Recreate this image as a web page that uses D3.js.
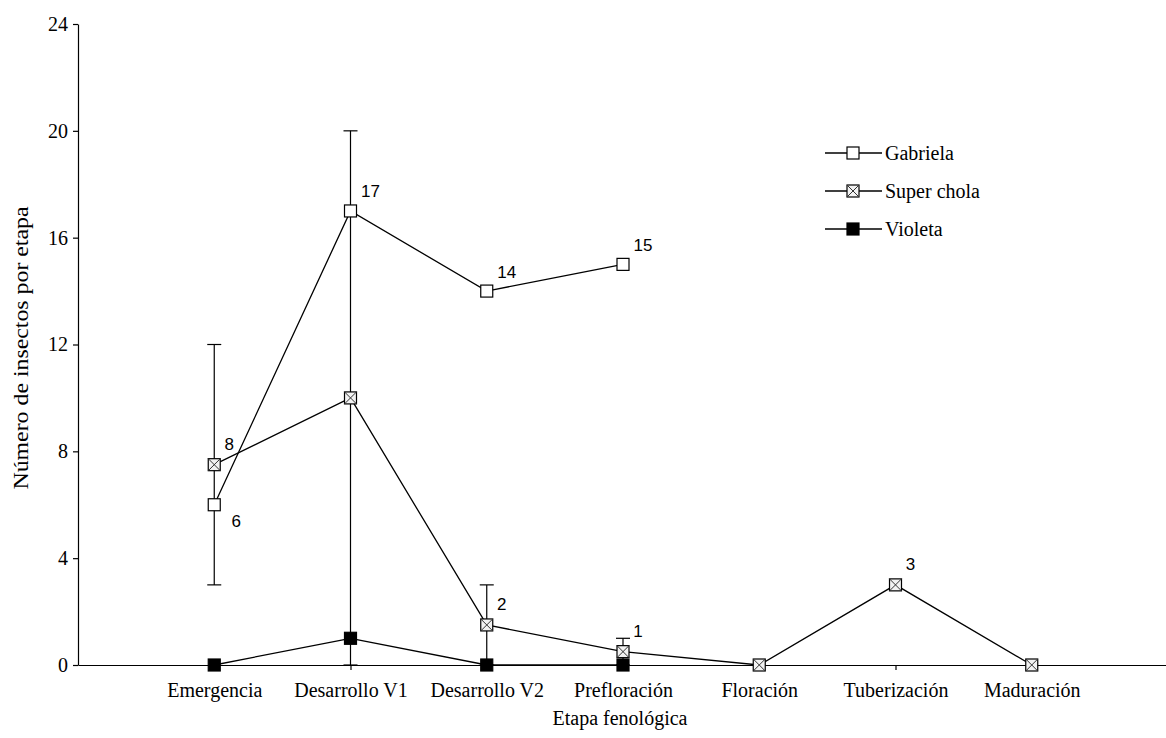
<!DOCTYPE html>
<html>
<head>
<meta charset="utf-8">
<script src="https://cdn.jsdelivr.net/npm/d3@7"></script>
<style>
  body { margin: 0; background: #fff; }
  svg { display: block; }
</style>
</head>
<body>
<svg id="chart" width="1166" height="738"></svg>
<script>
// Phenological stages on the x axis
const stages = ["Emergencia", "Desarrollo V1", "Desarrollo V2", "Prefloración", "Floración", "Tuberización", "Maduración"];
const yTicks = [0, 4, 8, 12, 16, 20, 24];

// Insects per stage for each potato variety (null = not recorded)
const gabriela = [6, 17, 14, 15, null, null, null];
const superChola = [7.5, 10, 1.5, 0.5, 0, 3, 0];
const superCholaErr = [4.5, 10, 1.5, 0.5, null, null, null];
const violeta = [0, 1, 0, 0, null, null, null];

// Value annotations printed next to the points
const gabrielaLabels = ["6", "17", "14", "15", "", "", ""];
const superCholaLabels = ["8", "", "2", "1", "", "3", ""];

const seriesNames = ["Gabriela", "Super chola", "Violeta"];

const svg = d3.select("#chart");
const serif = "'Liberation Serif', 'Times New Roman', serif";
const sans = "'Liberation Sans', Arial, sans-serif";

const x = d3.scalePoint().domain(stages).range([78, 1168]).padding(1);
const y = d3.scaleLinear().domain([0, 24]).range([665, 24]);

// Axes
const yAxis = svg.append("g")
  .attr("transform", "translate(78,0)")
  .call(d3.axisLeft(y).tickValues(yTicks).tickSize(5).tickSizeOuter(0).tickPadding(5).tickFormat(d3.format("d")));
const xAxis = svg.append("g")
  .attr("transform", "translate(0,665)")
  .call(d3.axisBottom(x).tickSize(5).tickSizeOuter(0).tickPadding(13));

[yAxis, xAxis].forEach(g => {
  g.selectAll("path, line").attr("stroke", "#000").attr("stroke-width", 1.2);
  g.selectAll("text").attr("font-family", serif).attr("font-size", 20).attr("fill", "#000");
});

// Axis titles
svg.append("text")
  .attr("x", 620).attr("y", 725)
  .attr("text-anchor", "middle")
  .attr("font-family", serif).attr("font-size", 20)
  .text("Etapa fenológica");

svg.append("text")
  .attr("transform", "translate(28,348) rotate(-90)")
  .attr("text-anchor", "middle")
  .attr("font-family", serif).attr("font-size", 20)
  .attr("textLength", 283).attr("lengthAdjust", "spacingAndGlyphs")
  .text("Número de insectos por etapa");

// Error bars (Super chola)
const cap = 7;
const errG = svg.append("g").attr("stroke", "#000").attr("stroke-width", 1.2);
superChola.forEach((v, i) => {
  const e = superCholaErr[i];
  if (e == null) return;
  const cx = x(stages[i]);
  const top = y(v + e), bot = y(Math.max(0, v - e));
  errG.append("line").attr("x1", cx).attr("x2", cx).attr("y1", top).attr("y2", bot);
  errG.append("line").attr("x1", cx - cap).attr("x2", cx + cap).attr("y1", top).attr("y2", top);
  errG.append("line").attr("x1", cx - cap).attr("x2", cx + cap).attr("y1", bot).attr("y2", bot);
});

// Series lines
const line = d3.line()
  .defined(d => d.v != null)
  .x(d => x(d.stage))
  .y(d => y(d.v));

const toPoints = arr => arr.map((v, i) => ({ stage: stages[i], v }));
const series = [gabriela, superChola, violeta];

series.forEach(arr => {
  svg.append("path")
    .datum(toPoints(arr))
    .attr("d", line)
    .attr("fill", "none")
    .attr("stroke", "#000")
    .attr("stroke-width", 1.3);
});

// Markers
const size = 12;
function marker(g, kind, cx, cy) {
  const h = size / 2;
  if (kind === 0) {
    g.append("rect").attr("x", cx - h).attr("y", cy - h).attr("width", size).attr("height", size)
      .attr("fill", "#fff").attr("stroke", "#000").attr("stroke-width", 1.2);
  } else if (kind === 1) {
    g.append("rect").attr("x", cx - h).attr("y", cy - h).attr("width", size).attr("height", size)
      .attr("fill", "#f2f2f2").attr("stroke", "#000").attr("stroke-width", 1.2);
    g.append("path")
      .attr("d", `M${cx - h},${cy - h}L${cx + h},${cy + h}M${cx + h},${cy - h}L${cx - h},${cy + h}`)
      .attr("stroke", "#333").attr("stroke-width", 1);
  } else {
    g.append("rect").attr("x", cx - h).attr("y", cy - h).attr("width", size).attr("height", size)
      .attr("fill", "#000").attr("stroke", "#000").attr("stroke-width", 1.2);
  }
}

const markG = svg.append("g");
series.forEach((arr, k) => {
  arr.forEach((v, i) => {
    if (v == null) return;
    marker(markG, k, x(stages[i]), y(v));
  });
});

// Value annotations
const labG = svg.append("g").attr("font-family", sans).attr("font-size", 17)
  .attr("text-anchor", "middle").attr("dominant-baseline", "central");
gabrielaLabels.forEach((t, i) => {
  if (!t) return;
  const below = i === 0;
  labG.append("text")
    .attr("x", x(stages[i]) + (below ? 22 : 20))
    .attr("y", y(gabriela[i]) + (below ? 17 : -19))
    .text(t);
});
superCholaLabels.forEach((t, i) => {
  if (!t) return;
  labG.append("text")
    .attr("x", x(stages[i]) + 15)
    .attr("y", y(superChola[i]) - 20)
    .text(t);
});

// Legend
const legend = svg.append("g");
seriesNames.forEach((name, k) => {
  const ly = 153 + k * 38;
  legend.append("line").attr("x1", 825).attr("x2", 882).attr("y1", ly).attr("y2", ly)
    .attr("stroke", "#000").attr("stroke-width", 1.3);
  marker(legend, k, 853, ly);
  legend.append("text").attr("x", 885).attr("y", ly)
    .attr("dominant-baseline", "central")
    .attr("font-family", serif).attr("font-size", 20)
    .text(name);
});
</script>
</body>
</html>
